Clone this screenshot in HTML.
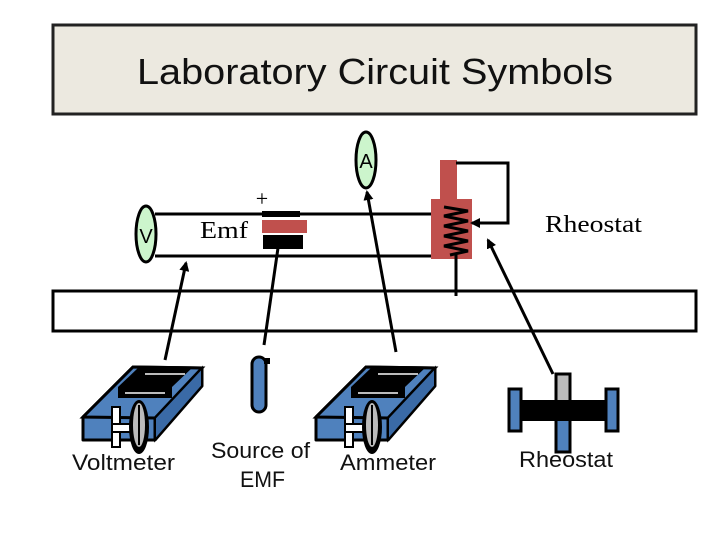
<!DOCTYPE html>
<html><head><meta charset="utf-8"><style>
html,body{margin:0;padding:0;background:#fff;}
svg{display:block;}
</style></head><body>
<svg width="720" height="540" viewBox="0 0 720 540" xmlns="http://www.w3.org/2000/svg">
<defs>
<marker id="ah" markerWidth="10" markerHeight="10" refX="8" refY="5" orient="auto" markerUnits="userSpaceOnUse">
<path d="M0,0 L10,5 L0,10 Z" fill="#000"/>
</marker>
<g id="meter">
<polygon points="83,417 133,367 202,368 202,386 155,440 83,440" fill="#4f81bd" stroke="#000" stroke-width="3" stroke-linejoin="round"/>
<polygon points="83,417 133,367 202,368 155,418" fill="#4f81bd" stroke="#000" stroke-width="3"/>
<line x1="155" y1="418" x2="155" y2="440" stroke="#000" stroke-width="3"/>
<polygon points="155,418 202,368 202,386 155,440" fill="#3a6aa6" stroke="#000" stroke-width="2"/>
<polygon points="118,387 138,368 192,368 172,387 172,398 118,398" fill="#000"/>
<line x1="125" y1="393" x2="165" y2="393" stroke="#bbb" stroke-width="2"/>
<line x1="145" y1="374" x2="185" y2="374" stroke="#bbb" stroke-width="2"/>
<rect x="112" y="407" width="8" height="40" fill="#fff" stroke="#000" stroke-width="2"/>
<rect x="112" y="424" width="26" height="8" fill="#fff" stroke="#000" stroke-width="2"/>
<ellipse cx="139" cy="427" rx="10" ry="27" fill="#000"/>
<ellipse cx="139" cy="425" rx="6" ry="22" fill="#bbb"/>
<line x1="139" y1="405" x2="139" y2="445" stroke="#000" stroke-width="2"/>
</g>
</defs>

<rect x="53" y="25" width="643" height="89" fill="#ece9e0" stroke="#222" stroke-width="3"/>
<text x="137" y="84" font-family="Liberation Sans, sans-serif" font-size="36" textLength="476" lengthAdjust="spacingAndGlyphs" fill="#111">Laboratory Circuit Symbols</text>

<rect x="53" y="291" width="643" height="40" fill="#fff" stroke="#000" stroke-width="3"/>

<line x1="155" y1="214" x2="432" y2="214" stroke="#000" stroke-width="3"/>
<line x1="155" y1="256" x2="432" y2="256" stroke="#000" stroke-width="3"/>
<ellipse cx="146" cy="234" rx="10" ry="28" fill="#ccf5cc" stroke="#000" stroke-width="3"/>
<text x="146" y="243" font-family="Liberation Sans, sans-serif" font-size="20" text-anchor="middle">V</text>
<text x="200" y="238" font-family="Liberation Serif, serif" font-size="24" textLength="48" lengthAdjust="spacingAndGlyphs">Emf</text>
<text x="262" y="206" font-family="Liberation Serif, serif" font-size="22" text-anchor="middle">+</text>
<rect x="262" y="211" width="38" height="6" fill="#000"/>
<rect x="262" y="220" width="45" height="13" fill="#c0504d"/>
<rect x="263" y="235" width="40" height="14" fill="#000"/>

<ellipse cx="366" cy="160" rx="10" ry="28" fill="#ccf5cc" stroke="#000" stroke-width="3"/>
<text x="366" y="168" font-family="Liberation Sans, sans-serif" font-size="20" text-anchor="middle">A</text>

<rect x="440" y="160" width="17" height="40" fill="#c0504d"/>
<rect x="431" y="199" width="41" height="60" fill="#c0504d"/>
<polyline points="456,163 508,163 508,223 472,223" fill="none" stroke="#000" stroke-width="3" marker-end="url(#ah)"/>
<polyline points="444,207 468,211 444,216 468,221 444,226 468,231 444,236 468,241 444,246 468,251 450,255" fill="none" stroke="#000" stroke-width="3"/>
<line x1="456" y1="255" x2="456" y2="296" stroke="#000" stroke-width="3"/>

<line x1="165" y1="360" x2="186" y2="263" stroke="#000" stroke-width="3" marker-end="url(#ah)"/>
<line x1="278" y1="248" x2="264" y2="345" stroke="#000" stroke-width="3"/>
<line x1="396" y1="352" x2="367" y2="192" stroke="#000" stroke-width="3" marker-end="url(#ah)"/>
<line x1="553" y1="374" x2="488" y2="240" stroke="#000" stroke-width="3" marker-end="url(#ah)"/>

<use href="#meter"/>
<use href="#meter" x="233"/>
<rect x="252" y="357" width="14" height="55" rx="7" fill="#4f81bd" stroke="#000" stroke-width="3"/>
<rect x="264" y="358" width="6" height="6" fill="#000"/>

<rect x="556" y="374" width="14" height="30" fill="#bbb" stroke="#000" stroke-width="3"/>
<rect x="556" y="418" width="14" height="34" fill="#4f81bd" stroke="#000" stroke-width="3"/>
<rect x="520" y="400" width="88" height="21" fill="#000"/>
<rect x="509" y="389" width="12" height="42" fill="#4f81bd" stroke="#000" stroke-width="3"/>
<rect x="606" y="389" width="12" height="42" fill="#4f81bd" stroke="#000" stroke-width="3"/>

<g font-family="Liberation Sans, sans-serif" font-size="22" fill="#111" lengthAdjust="spacingAndGlyphs">
<text x="72" y="470" textLength="103" lengthAdjust="spacingAndGlyphs">Voltmeter</text>
<text x="211" y="458" textLength="99" lengthAdjust="spacingAndGlyphs">Source of</text>
<text x="240" y="487" textLength="45" lengthAdjust="spacingAndGlyphs">EMF</text>
<text x="340" y="470" textLength="96" lengthAdjust="spacingAndGlyphs">Ammeter</text>
<text x="519" y="467" textLength="94" lengthAdjust="spacingAndGlyphs">Rheostat</text>
</g>
<text x="545" y="232" font-family="Liberation Serif, serif" font-size="24" textLength="97" lengthAdjust="spacingAndGlyphs">Rheostat</text>
</svg>
</body></html>
